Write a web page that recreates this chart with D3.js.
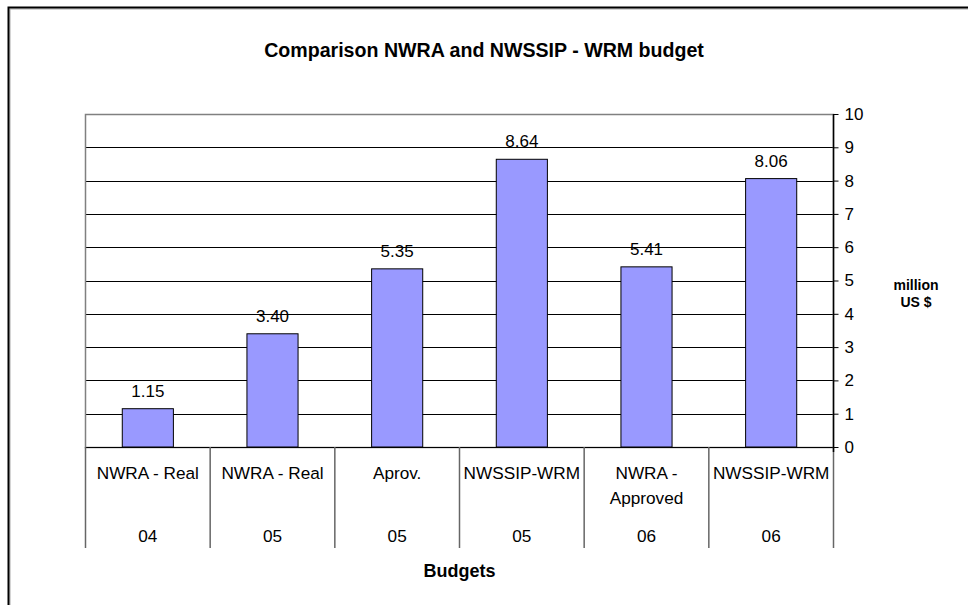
<!DOCTYPE html>
<html>
<head>
<meta charset="utf-8">
<script src="https://cdn.jsdelivr.net/npm/d3@7"></script>
<style>
  body { margin: 0; background: #fff; }
  svg { display: block; font-family: Arial, "Liberation Sans", sans-serif; }
</style>
</head>
<body>
<div class="chart"></div>
<script>
// data
const budgetTypes = ["NWRA - Real", "NWRA - Real", "Aprov.", "NWSSIP-WRM", "NWRA -|Approved", "NWSSIP-WRM"];
const years = ["04", "05", "05", "05", "06", "06"];
const values = [1.15, 3.40, 5.35, 8.64, 5.41, 8.06];
const yTicks = [0, 1, 2, 3, 4, 5, 6, 7, 8, 9, 10];

var w = 968,
	h = 605,
	plotLeft = 85.5,
	plotRight = 833.5,
	plotTop = 114,
	plotBottom = 447;

const svg = d3.select(".chart").append("svg").attr("width", w).attr("height", h);

// outer frame (only left and top edges show in the picture)
svg.append("path")
	.attr("d", "M10,612V9H975")
	.attr("fill", "none")
	.attr("stroke", "#aaa")
	.attr("stroke-width", 1);
svg.append("path")
	.attr("d", "M8.5,612V7.5H975")
	.attr("fill", "none")
	.attr("stroke", "#000")
	.attr("stroke-width", 2);

svg.append("text")
	.attr("x", 484)
	.attr("y", 57)
	.attr("text-anchor", "middle")
	.style("font-size", "19.6px")
	.style("font-weight", "bold")
	.text("Comparison NWRA and NWSSIP - WRM budget");

const idx = values.map((d, i) => i);
const xScale = d3.scaleBand().domain(idx).range([plotLeft, plotRight]);
const yScale = d3.scaleLinear().domain([0, 10]).range([plotBottom, plotTop]);
const cx = (i) => xScale(i) + xScale.bandwidth() / 2;

// value labels (gridlines run over them in the original)
svg.append("g")
	.selectAll("text")
	.data(idx)
	.enter()
	.append("text")
	.attr("x", cx)
	.attr("y", (i) => yScale(values[i]) - 12)
	.attr("text-anchor", "middle")
	.style("font-size", "17px")
	.text((i) => values[i].toFixed(2));

// grid lines
svg.append("g")
	.selectAll("line")
	.data(yTicks.filter((t) => t > 0 && t < 10))
	.enter()
	.append("line")
	.attr("x1", plotLeft)
	.attr("x2", plotRight)
	.attr("y1", (d) => Math.round(yScale(d)) + 0.5)
	.attr("y2", (d) => Math.round(yScale(d)) + 0.5)
	.attr("stroke", "#000");

// plot border
svg.append("rect")
	.attr("x", plotLeft)
	.attr("y", plotTop + 0.5)
	.attr("width", plotRight - plotLeft)
	.attr("height", plotBottom - plotTop)
	.attr("fill", "none")
	.attr("stroke", "#808080")
	.attr("stroke-width", 1.5);

// bars
const bw = xScale.bandwidth() * 0.41;
svg.append("g")
	.selectAll("rect")
	.data(idx)
	.enter()
	.append("rect")
	.attr("x", (i) => cx(i) - bw / 2)
	.attr("y", (i) => yScale(values[i]))
	.attr("width", bw)
	.attr("height", (i) => yScale(0) - yScale(values[i]))
	.attr("fill", "#9999ff")
	.attr("stroke", "#000")
	.attr("stroke-width", 1);

// zero line
svg.append("line")
	.attr("x1", plotLeft)
	.attr("x2", plotRight)
	.attr("y1", plotBottom + 0.5)
	.attr("y2", plotBottom + 0.5)
	.attr("stroke", "#000");

// category separators
svg.append("g")
	.selectAll("line")
	.data(idx.concat([values.length]))
	.enter()
	.append("line")
	.attr("x1", (i) => (i < values.length ? xScale(i) : plotRight))
	.attr("x2", (i) => (i < values.length ? xScale(i) : plotRight))
	.attr("y1", plotBottom)
	.attr("y2", 548)
	.attr("stroke", "#666")
	.attr("stroke-width", 1.5);

const cat = svg.append("g")
	.selectAll("text")
	.data(idx)
	.enter()
	.append("text")
	.attr("text-anchor", "middle")
	.style("font-size", "17.2px");
cat.each(function (i) {
	budgetTypes[i].split("|").forEach((l, k) => {
		d3.select(this)
			.append("tspan")
			.attr("x", cx(i))
			.attr("y", 479 + k * 25)
			.text(l);
	});
});

svg.append("g")
	.selectAll("text")
	.data(idx)
	.enter()
	.append("text")
	.attr("x", cx)
	.attr("y", 542)
	.attr("text-anchor", "middle")
	.style("font-size", "17.2px")
	.text((i) => years[i]);

svg.append("text")
	.attr("x", (plotLeft + plotRight) / 2)
	.attr("y", 577)
	.attr("text-anchor", "middle")
	.style("font-size", "18px")
	.style("font-weight", "bold")
	.text("Budgets");

// right y axis
const yAxis = d3.axisRight(yScale).tickValues(yTicks).tickSize(5).tickPadding(6);
const ya = svg.append("g")
	.attr("transform", "translate(" + plotRight + ",0)")
	.call(yAxis);
ya.select(".domain").attr("stroke", "#000").attr("stroke-width", 1.5).attr("d", "M0," + plotTop + "V" + (plotBottom + 5));
ya.selectAll(".tick line").attr("stroke", "#000");
ya.selectAll("text")
	.style("font-size", "17px")
	.style("font-family", "Arial, 'Liberation Sans', sans-serif")
	.attr("fill", "#000");

svg.append("text")
	.attr("text-anchor", "middle")
	.style("font-size", "14px")
	.style("font-weight", "bold")
	.selectAll("tspan")
	.data(["million", "US $"])
	.enter()
	.append("tspan")
	.attr("x", 916)
	.attr("y", (d, k) => 290 + k * 17)
	.text((d) => d);
</script>
</body>
</html>
